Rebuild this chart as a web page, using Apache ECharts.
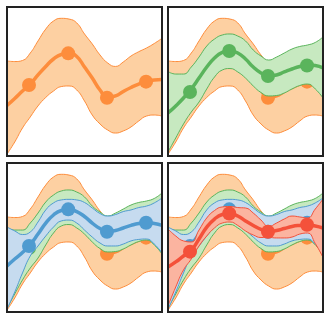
<!DOCTYPE html>
<html>
<head>
<meta charset="utf-8">
<script src="https://cdn.jsdelivr.net/npm/echarts@6/dist/echarts.min.js"></script>
<style>
  html, body { margin: 0; padding: 0; background: #fff; }
  #chart { width: 330px; height: 320px; }
</style>
</head>
<body>
<div id="chart"></div>
<script>
// x de las curvas y de las observaciones
const xs = [0, 0.5, 1, 1.5, 2, 2.5, 3, 3.5, 4, 4.5, 5, 5.5, 6, 6.5, 7, 7.5, 8, 8.5, 9, 9.5, 10];
const puntosX = [1.42, 3.95, 6.45, 8.97];

// naranja
const naranjaSup = [6.38, 6.34, 6.41, 6.91, 7.72, 8.52, 9.06, 9.24, 9.19, 8.93, 8.19, 7.52, 6.78, 6.24, 6.01, 6.31, 6.71, 7.0, 7.25, 7.55, 7.90];
const naranjaMedia = [3.39, 3.86, 4.36, 4.83, 5.44, 6.01, 6.51, 6.81, 6.88, 6.68, 5.97, 5.23, 4.43, 3.93, 4.03, 4.33, 4.60, 4.83, 5.0, 5.10, 5.13];
const naranjaInf = [0.13, 0.94, 1.88, 2.62, 3.36, 3.93, 4.36, 4.66, 4.70, 4.43, 3.69, 2.75, 2.15, 1.74, 1.54, 1.68, 1.95, 2.35, 2.68, 2.75, 2.68];
const naranjaPuntos = [4.77, 6.89, 3.91, 4.99];

// verde
const verdeSup = [5.67, 5.50, 5.50, 5.97, 6.64, 7.38, 7.85, 8.12, 8.19, 8.05, 7.72, 7.11, 6.71, 6.44, 6.64, 6.91, 7.18, 7.35, 7.45, 7.62, 7.99];
const verdeMedia = [2.89, 3.36, 3.89, 4.50, 5.23, 5.97, 6.58, 6.95, 7.05, 6.91, 6.51, 5.97, 5.57, 5.37, 5.44, 5.64, 5.84, 6.01, 6.11, 6.07, 5.91];
const verdeInf = [0.27, 1.21, 2.15, 2.95, 3.62, 4.50, 5.30, 5.77, 5.87, 5.64, 5.23, 4.70, 4.26, 4.03, 4.06, 4.23, 4.50, 4.73, 4.83, 4.50, 3.89];
const verdePuntos = [4.30, 7.05, 5.37, 6.07];

// azul
const azulSup = [5.70, 5.44, 5.20, 5.37, 6.04, 6.85, 7.32, 7.52, 7.56, 7.52, 7.35, 6.98, 6.61, 6.44, 6.54, 6.74, 6.85, 7.01, 7.11, 7.32, 7.65];
const azulMedia = [3.09, 3.56, 3.99, 4.53, 5.23, 5.97, 6.51, 6.81, 6.88, 6.74, 6.41, 5.97, 5.60, 5.40, 5.47, 5.64, 5.81, 5.94, 5.99, 5.94, 5.81];
const azulInf = [0.20, 1.34, 2.62, 3.76, 4.43, 5.10, 5.70, 6.11, 6.17, 5.97, 5.50, 5.03, 4.63, 4.43, 4.43, 4.56, 4.77, 4.87, 4.90, 4.56, 3.96];
const azulPuntos = [4.43, 6.89, 5.39, 5.99];

// rojo
const rojoSup = [5.57, 5.10, 4.77, 4.70, 5.50, 6.31, 6.81, 7.05, 7.08, 7.01, 6.98, 6.64, 6.17, 5.74, 5.97, 6.24, 6.44, 6.38, 6.31, 6.91, 7.58];
const rojoMedia = [3.02, 3.36, 3.76, 4.13, 4.90, 5.70, 6.24, 6.54, 6.61, 6.44, 6.11, 5.81, 5.54, 5.39, 5.47, 5.60, 5.74, 5.81, 5.84, 5.77, 5.64];
const rojoInf = [0.40, 1.68, 2.82, 3.56, 4.43, 5.10, 5.64, 5.97, 6.04, 5.81, 5.44, 5.17, 5.0, 5.0, 4.97, 4.97, 5.03, 5.23, 5.30, 4.60, 3.66];
const rojoPuntos = [4.05, 6.61, 5.39, 5.86];

const curvas = [
    { sup: naranjaSup, media: naranjaMedia, inf: naranjaInf, puntos: naranjaPuntos, linea: '#fd8d3c', relleno: '#fdd0a2' },
    { sup: verdeSup, media: verdeMedia, inf: verdeInf, puntos: verdePuntos, linea: '#5ab45c', relleno: '#c7e9c0' },
    { sup: azulSup, media: azulMedia, inf: azulInf, puntos: azulPuntos, linea: '#4f9bd0', relleno: '#c6dbef' },
    { sup: rojoSup, media: rojoMedia, inf: rojoInf, puntos: rojoPuntos, linea: '#f4513a', relleno: '#fbb4a0' }
];

const paneles = [[7, 7], [168, 7], [7, 163], [168, 163]];

const chart = echarts.init(document.getElementById('chart'));

const grids = [], xAxes = [], yAxes = [], series = [];

paneles.forEach(([left, top], p) => {
    grids.push({
        left: left, top: top, width: 155, height: 149,
        show: true, backgroundColor: 'transparent',
        borderColor: '#222', borderWidth: 2, z: 100
    });
    // eje de categorías para las bandas (apilado), eje de valores para los puntos
    xAxes.push({ gridIndex: p, type: 'category', data: xs, boundaryGap: false, show: false });
    xAxes.push({ gridIndex: p, type: 'value', min: 0, max: 10, show: false });
    yAxes.push({ gridIndex: p, type: 'value', min: 0, max: 10, show: false });

    const ejeCat = 2 * p, ejeVal = 2 * p + 1;

    // cada panel suma una curva más encima de las anteriores
    for (let g = 0; g <= p; g++) {
        const c = curvas[g];
        const z = g * 4 + 1;
        const pila = 'p' + p + 'g' + g;
        series.push({
            type: 'line', xAxisIndex: ejeCat, yAxisIndex: p, stack: pila,
            data: c.inf,
            smooth: true, symbol: 'none', silent: true, z: z + 0.5,
            lineStyle: { color: c.linea, width: 1 }
        });
        series.push({
            type: 'line', xAxisIndex: ejeCat, yAxisIndex: p, stack: pila,
            data: c.sup.map((v, i) => v - c.inf[i]),
            smooth: true, symbol: 'none', silent: true, z: z,
            lineStyle: { color: c.linea, width: 1 },
            areaStyle: { color: c.relleno, opacity: 1 }
        });
        series.push({
            type: 'line', xAxisIndex: ejeCat, yAxisIndex: p,
            data: c.media,
            smooth: true, symbol: 'none', silent: true, z: z + 1,
            lineStyle: { color: c.linea, width: 3.5 }
        });
        series.push({
            type: 'scatter', xAxisIndex: ejeVal, yAxisIndex: p,
            data: puntosX.map((x, i) => [x, c.puntos[i]]),
            symbolSize: 14, silent: true, z: z + 2,
            itemStyle: { color: c.linea, opacity: 1 }
        });
    }
});

chart.setOption({
    animation: false,
    grid: grids,
    xAxis: xAxes,
    yAxis: yAxes,
    series: series
});
</script>
</body>
</html>
